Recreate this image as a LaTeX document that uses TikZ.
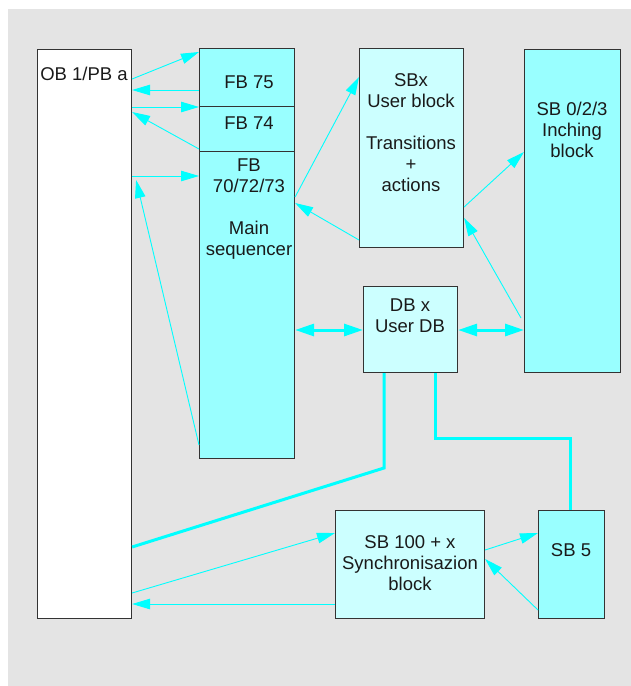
\documentclass[tikz,border=0pt]{standalone}
\usepackage{fontspec}
\setmainfont{Liberation Sans}
\usetikzlibrary{arrows.meta,calc}

\definecolor{bggray}{HTML}{E4E4E4}
\definecolor{fbcyan}{HTML}{99FFFF}
\definecolor{sbcyan}{HTML}{CCFFFF}
\definecolor{linkcyan}{HTML}{00FFFF}
\definecolor{edge}{HTML}{333333}
\definecolor{ink}{HTML}{1A1A1A}

\tikzset{
  blockbox/.style={draw=edge, line width=1.1pt, anchor=north west, inner sep=0pt},
  darkblock/.style={blockbox, fill=fbcyan},
  lightblock/.style={blockbox, fill=sbcyan},
  plainblock/.style={blockbox, fill=white},
  label text/.style={align=center, anchor=north, inner sep=0pt, text=ink,
    font=\fontsize{18.5}{21}\selectfont},
  call/.style={draw=linkcyan, line width=0.9pt, -{Triangle[length=18pt,width=10.5pt]}},
  datalink/.style={draw=linkcyan, line width=3pt,
    {Triangle[length=19pt,width=12pt]}-{Triangle[length=19pt,width=12pt]}},
  wire/.style={draw=linkcyan, line width=3pt},
}

\begin{document}
\begin{tikzpicture}[x=1pt,y=-1pt]
  \useasboundingbox (0,0) rectangle (631,686);
  \fill[white] (0,0) rectangle (631,686);
  \fill[bggray] (8,9) rectangle (631,686);

  % blocks
  \node[plainblock, minimum width=94pt, minimum height=569pt] (ob) at (37,49) {};
  \node[darkblock, minimum width=95pt, minimum height=58pt] (fb75) at (199,48) {};
  \node[darkblock, minimum width=95pt, minimum height=45pt] (fb74) at (199,106) {};
  \node[darkblock, minimum width=95pt, minimum height=307pt] (main) at (199,151) {};
  \node[lightblock, minimum width=104pt, minimum height=199pt] (sbx) at (359,48) {};
  \node[darkblock, minimum width=96pt, minimum height=323pt] (sb0) at (524,49) {};
  \node[lightblock, minimum width=94pt, minimum height=86pt] (db) at (363,286) {};
  \node[lightblock, minimum width=149pt, minimum height=108pt] (sb100) at (335,510) {};
  \node[darkblock, minimum width=66pt, minimum height=108pt] (sb5) at (538,510) {};

  % block titles
  \node[label text] (ob-t) at (84,66.6) {OB 1/PB a};
  \node[label text] (fb75-t) at (249,75.6) {FB 75};
  \node[label text] (fb74-t) at (249,116.6) {FB 74};
  \node[label text] (main-t) at (249,158.6) {FB\\70/72/73\\[21pt]Main\\sequencer};
  \node[label text] (sbx-t) at (411,73.6) {SBx\\User block\\[21pt]Transitions\\+\\actions};
  \node[label text] (sb0-t) at (572,101.6) {SB 0/2/3\\Inching\\block};
  \node[label text] (db-t) at (410,298.6) {DB x\\User DB};
  \node[label text] (sb100-t) at (410,535.6) {SB 100 + x\\Synchronisazion\\block};
  \node[label text] (sb5-t) at (571,543.6) {SB 5};

  % calls between OB and the function blocks
  \draw[call] (ob.east |- 0,79) -- (fb75.west |- 0,52);
  \draw[call] (fb75.west |- 0,90) -- (ob.east |- 0,90);
  \draw[call] (ob.east |- 0,107) -- (fb74.west |- 0,107);
  \draw[call] (fb74.west |- 0,149) -- (ob.east |- 0,112);
  \draw[call] (ob.east |- 0,176) -- (main.west |- 0,176);
  \draw[call] (main.west |- 0,445) -- ($(ob.east |- 0,180)+(4,0)$);

  % sequencer and step blocks
  \draw[call] (main.east |- 0,197) -- (sbx.west |- 0,77);
  \draw[call] (sbx.west |- 0,240) -- (main.east |- 0,203);
  \draw[call] (sbx.east |- 0,207) -- (sb0.west |- 0,152);
  \draw[call] ($(sb0.west |- 0,318)+(-3,0)$) -- (sbx.east |- 0,218);

  % data block access
  \draw[datalink] (main.east |- 0,330) -- (db.west |- 0,330);
  \draw[datalink] (db.east |- 0,330) -- (sb0.west |- 0,330);
  \draw[wire] (db.south -| 384,0) -- (384,468) -- (ob.east |- 0,547);
  \draw[wire] (db.south -| 435,0) -- (435,438) -- (570,438) -- (sb5.north -| 570,0);

  % synchronisation
  \draw[call] (ob.east |- 0,593) -- (sb100.west |- 0,533);
  \draw[call] (sb100.west |- 0,604) -- (ob.east |- 0,604);
  \draw[call] (sb100.east |- 0,550) -- (sb5.west |- 0,533);
  \draw[call] (sb5.west |- 0,610) -- (sb100.east |- 0,559);
\end{tikzpicture}
\end{document}
